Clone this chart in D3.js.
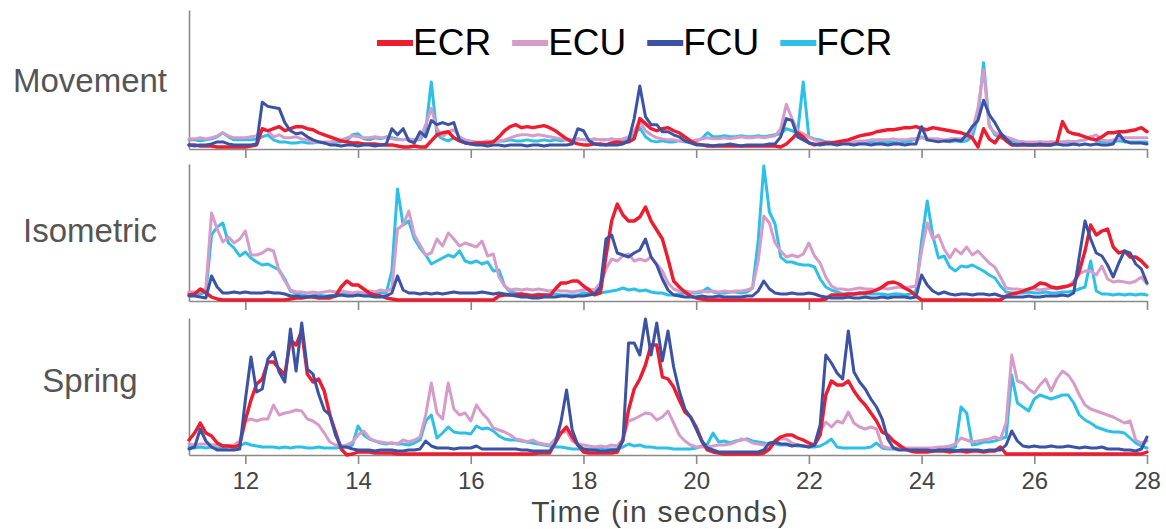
<!DOCTYPE html>
<html>
<head>
<meta charset="utf-8">
<script src="https://cdn.jsdelivr.net/npm/d3@7"></script>
<style>
  html, body { margin: 0; padding: 0; background: #ffffff; }
  svg { display: block; font-family: "Liberation Sans", Arial, Helvetica, sans-serif; }
</style>
</head>
<body>
<svg id="chart" width="1166" height="529"></svg>
<script>
// ---- data -------------------------------------------------------------
const muscles = ["ECR", "ECU", "FCU", "FCR"];
const conditions = ["Movement", "Isometric", "Spring"];
const tickSeconds = [12, 14, 16, 18, 20, 22, 24, 26, 28];
const firstSecond = 11;      // time of the first sample
const sampleStep = 0.1;      // seconds between samples

// EMG envelopes (arbitrary units), one sample every 0.1 s from 11.0 s to 28.0 s
const movementECR = [4,4,3,3,3,2,2,2,2,2,
  2,3,4,20,18,20,22,18,20,22,
  22,20,19,16,14,12,10,8,7,6,
  6,5,5,5,4,4,4,3,2,2,
  3,2,2,8,14,16,17,11,8,6,
  5,6,6,6,7,12,18,22,24,21,
  22,21,22,23,21,18,14,10,7,5,
  4,4,5,5,4,6,7,6,7,10,
  30,25,20,18,20,21,18,16,12,8,
  5,4,3,3,3,3,3,3,3,3,
  3,3,3,3,3,2,5,10,16,12,
  6,4,5,6,6,7,8,9,11,13,
  14,15,17,18,19,19,20,21,21,22,
  20,19,21,20,19,18,17,16,14,11,
  2,20,10,6,14,8,4,4,4,4,
  4,4,4,4,6,27,17,15,14,12,
  10,9,12,16,16,17,17,18,19,21,
  17];
const movementECU = [10,10,11,10,11,13,16,13,11,11,
  11,12,13,19,18,12,14,11,11,12,
  10,9,7,7,7,7,8,9,11,13,
  12,11,11,12,11,11,10,9,9,10,
  9,10,24,40,20,12,17,19,12,9,
  8,7,7,8,7,8,9,11,13,14,
  14,13,14,13,12,11,10,9,9,10,
  9,9,10,9,9,10,9,10,12,18,
  27,18,14,11,10,9,9,8,8,8,
  9,10,11,10,10,11,10,11,12,11,
  11,12,11,12,13,20,44,30,18,15,
  12,9,7,6,6,6,7,6,7,8,
  8,9,9,9,9,10,9,9,10,10,
  11,10,10,10,9,10,10,10,11,18,
  40,78,22,16,14,12,10,8,7,7,
  7,7,7,7,7,7,8,7,8,9,
  12,14,9,8,9,10,11,11,11,11,
  11];
const movementFCU = [4,3,4,4,5,7,7,5,4,4,
  4,4,5,46,42,41,40,26,18,15,
  16,12,9,7,6,4,4,3,4,4,
  3,4,4,3,4,5,20,14,20,8,
  6,17,12,28,24,26,24,26,9,6,
  5,4,4,3,4,4,3,4,4,4,
  3,4,4,3,4,4,4,4,5,20,
  18,8,5,4,4,4,4,5,8,30,
  62,32,24,24,17,17,14,12,8,6,
  4,4,4,3,4,4,5,4,3,4,
  4,4,4,5,5,12,30,28,12,9,
  6,5,4,5,5,4,5,5,4,5,
  5,4,5,5,4,5,5,4,5,5,
  22,9,8,7,8,8,9,8,14,22,
  28,48,34,26,16,10,5,4,5,4,
  4,5,4,4,5,4,4,5,4,5,
  4,5,4,4,5,15,8,6,6,6,
  5];
const movementFCR = [9,9,8,9,10,12,16,12,9,9,
  9,9,10,12,14,9,7,7,6,6,
  7,6,6,7,6,6,7,7,8,14,
  15,10,9,11,10,12,11,10,9,10,
  9,9,18,66,14,10,8,11,9,7,
  6,6,6,7,8,8,8,9,8,8,
  9,8,8,9,8,9,8,9,9,10,
  9,9,10,9,9,10,9,9,10,14,
  21,12,8,7,8,7,7,8,7,7,
  8,10,16,12,12,13,12,12,13,12,
  12,13,12,13,14,15,20,18,16,66,
  12,10,9,7,7,6,7,6,7,6,
  6,7,6,7,7,7,6,7,8,10,
  12,9,9,9,8,7,8,7,8,12,
  32,85,24,14,11,9,8,7,7,6,
  6,7,6,7,6,7,7,7,8,9,
  12,8,7,7,7,8,7,7,7,7,
  7];

const isometricECR = [6,7,12,8,4,2,1,1,1,1,
  1,1,1,1,1,1,1,1,2,3,
  3,4,4,3,3,3,5,14,20,16,
  16,12,8,6,5,3,2,1,1,1,
  1,1,1,1,1,1,1,1,1,1,
  1,1,1,1,1,5,6,6,6,7,
  6,5,6,6,5,12,18,18,20,20,
  15,11,6,8,45,80,97,86,80,80,
  84,94,80,71,62,42,20,14,9,5,
  3,2,1,1,1,1,1,1,1,1,
  1,1,1,1,1,1,1,1,1,1,
  1,1,1,2,6,6,6,7,7,8,
  8,9,11,14,18,19,17,13,10,5,
  1,1,1,1,1,1,1,1,1,1,
  1,1,1,1,1,5,7,8,10,12,
  14,18,17,14,13,14,15,17,30,50,
  76,66,70,72,54,48,50,44,44,40,
  34];
const isometricECU = [9,9,10,13,88,72,59,64,58,62,
  70,46,46,48,52,50,30,20,11,9,
  9,8,9,8,9,10,9,10,9,8,
  9,8,10,9,11,10,12,72,76,90,
  66,56,46,48,62,55,68,62,55,58,
  56,54,60,45,47,24,15,11,12,11,
  12,11,12,11,10,11,10,10,9,10,
  11,12,11,18,32,42,40,45,47,40,
  42,40,44,37,30,18,12,10,10,9,
  9,10,9,10,9,10,9,10,10,11,
  13,40,85,78,58,50,44,46,44,47,
  58,45,38,24,15,12,12,11,12,13,
  12,12,11,13,12,13,14,13,14,15,
  50,78,62,66,52,43,52,47,54,46,
  50,44,38,34,24,13,12,12,11,12,
  12,11,12,13,12,13,15,20,27,30,
  30,26,35,22,19,20,19,18,20,24,
  17];
const isometricFCU = [5,5,4,3,25,14,8,8,9,8,
  9,8,8,8,9,8,8,7,5,5,
  4,4,5,4,4,5,5,6,5,5,
  6,5,5,4,4,5,8,25,11,8,
  8,7,8,7,8,7,8,9,8,8,
  8,8,9,8,7,8,7,6,5,4,
  4,3,3,4,4,4,5,5,4,5,
  5,6,7,14,62,66,48,46,44,48,
  51,62,44,36,22,11,6,5,4,4,
  4,5,4,4,5,4,4,4,4,5,
  5,10,20,12,8,7,7,8,7,7,
  8,7,5,4,3,3,3,4,3,3,
  4,3,3,4,3,4,4,4,3,4,
  26,16,10,7,9,7,6,7,7,6,
  7,7,6,7,5,4,4,4,4,5,
  4,4,5,5,5,6,5,8,45,80,
  62,48,45,36,24,38,50,48,37,32,
  18];
const isometricFCR = [8,8,7,9,66,74,78,58,53,45,
  49,43,39,36,37,34,31,22,10,8,
  6,5,5,6,5,5,6,7,7,6,
  6,7,7,8,8,8,30,112,76,80,
  62,53,46,37,40,43,46,44,50,40,
  38,40,37,39,30,31,15,9,8,7,
  6,6,7,6,7,7,6,6,6,6,
  8,8,11,8,9,10,11,13,11,12,
  10,11,9,8,8,6,6,7,8,8,
  8,9,13,9,8,8,9,9,8,9,
  13,60,135,89,77,44,39,39,37,36,
  36,34,22,14,11,9,7,7,7,7,
  7,7,7,7,6,7,7,6,7,10,
  60,100,65,43,45,34,30,35,34,36,
  33,30,26,23,15,9,8,8,8,9,
  8,8,9,8,8,9,9,10,12,14,
  40,10,7,7,6,7,6,7,6,7,
  6];

const springECR = [15,22,32,22,19,12,9,9,8,10,
  35,55,71,76,93,93,86,80,115,110,
  124,81,73,76,64,40,23,6,0,1,
  3,3,3,2,2,2,2,1,1,1,
  1,1,1,1,1,1,1,1,1,1,
  1,1,1,1,1,1,1,1,1,1,
  1,1,2,2,2,12,22,28,18,10,
  3,2,2,2,2,2,3,15,45,66,
  76,90,110,110,78,76,68,55,43,38,
  28,14,5,3,2,1,1,1,1,1,
  1,1,2,6,14,18,20,20,17,15,
  12,10,20,60,74,70,70,74,64,56,
  50,42,34,23,20,14,10,6,4,3,
  3,3,4,4,4,3,4,4,3,4,
  4,3,4,4,8,1,1,1,1,1,
  1,1,1,1,1,1,1,1,1,1,
  1,1,1,1,1,1,1,1,1,1,
  3];
const springECU = [11,10,11,11,10,10,9,9,10,14,
  34,36,34,36,36,50,40,42,43,45,
  44,36,34,30,22,13,10,9,10,13,
  20,24,17,14,13,12,12,11,15,13,
  15,18,40,72,42,36,72,46,40,42,
  34,50,42,36,27,25,23,20,16,15,
  13,15,12,11,10,16,22,24,14,11,
  10,9,8,9,8,10,9,16,34,36,
  39,42,41,35,38,44,32,20,14,10,
  8,8,8,9,10,10,11,13,16,15,
  12,11,10,11,13,16,16,12,10,9,
  9,10,24,33,28,34,32,43,32,28,
  26,28,26,9,7,7,7,7,7,7,
  7,7,7,8,8,9,11,17,15,13,
  14,15,16,18,16,32,100,74,72,66,
  62,70,76,64,76,84,80,72,60,50,
  46,44,42,40,38,35,32,34,15,12,
  14];
const springFCU = [6,8,26,14,8,5,5,5,5,6,
  55,98,63,66,96,103,83,73,126,84,
  132,86,81,61,45,40,20,8,8,6,
  5,5,5,4,5,5,5,4,4,5,
  5,6,14,9,7,7,7,6,7,7,
  7,9,6,6,6,6,6,6,6,5,
  5,4,4,4,4,12,33,65,25,10,
  6,5,5,4,4,5,5,14,112,112,
  100,136,100,132,94,124,88,64,46,38,
  26,14,7,5,3,3,3,3,3,3,
  3,3,5,12,13,11,11,9,10,9,
  8,10,30,100,92,82,76,124,83,73,
  66,56,48,36,16,7,5,5,5,5,
  5,5,4,5,5,5,4,5,5,5,
  5,4,5,5,5,10,24,14,9,8,
  9,8,8,9,8,8,9,8,7,8,
  7,7,8,6,6,6,5,5,4,6,
  18];
const springFCR = [8,7,8,7,8,7,7,8,8,9,
  12,10,9,8,8,8,7,8,7,8,
  8,7,7,8,7,7,7,8,8,10,
  29,20,16,14,12,11,12,11,11,10,
  12,15,34,40,17,22,28,23,22,22,
  21,29,26,27,24,19,16,15,15,14,
  13,12,11,10,9,8,8,7,6,6,
  6,6,6,7,6,6,6,8,11,9,
  10,8,8,7,7,7,6,6,6,6,
  7,9,11,22,13,14,12,14,15,16,
  14,13,12,11,11,10,10,10,9,9,
  8,8,9,12,16,8,7,7,7,7,
  7,8,12,7,6,6,6,6,6,6,
  6,6,6,6,6,6,8,48,42,10,
  11,13,13,14,16,18,80,52,48,44,
  56,60,58,56,58,60,60,52,40,35,
  32,28,26,24,23,23,22,17,12,9,
  7];

// ---- look & layout ----------------------------------------------------
const muscleColors = { ECR: "#ED1C2E", ECU: "#D79BCA", FCU: "#3C52A4", FCR: "#2CC0E8" };
const drawOrder = ["FCR", "ECU", "ECR", "FCU"];
const valueMax = 137;

const margin = { left: 189, right: 1147 };
const panels = [
  { name: "Movement",  top: 10,  bottom: 149, labelY: 80,
    series: { ECR: movementECR, ECU: movementECU, FCU: movementFCU, FCR: movementFCR } },
  { name: "Isometric", top: 164, bottom: 301, labelY: 230,
    series: { ECR: isometricECR, ECU: isometricECU, FCU: isometricFCU, FCR: isometricFCR } },
  { name: "Spring",    top: 318, bottom: 455, labelY: 380,
    series: { ECR: springECR, ECU: springECU, FCU: springFCU, FCR: springFCR } }
];

const svg = d3.select("#chart");
const axisColor = "#8a8a8a";
const textColor = "#444444";

const x = d3.scaleLinear().domain([firstSecond, 28]).range([margin.left, margin.right]);
const sampleTime = i => firstSecond + i * sampleStep;

panels.forEach((p, pi) => {
  const y = d3.scaleLinear().domain([0, valueMax]).range([p.bottom, p.top]);
  const g = svg.append("g").attr("class", "panel");

  // bottom axis with outward ticks; labels only under the last panel
  const isLast = pi === panels.length - 1;
  const xAxis = d3.axisBottom(x)
    .tickValues(tickSeconds)
    .tickSize(9)
    .tickSizeOuter(0)
    .tickPadding(8)
    .tickFormat(isLast ? d3.format("d") : () => "");
  const gx = g.append("g")
    .attr("transform", `translate(0,${p.bottom})`)
    .call(xAxis);
  gx.select(".domain").attr("stroke", axisColor).attr("stroke-width", 1.6);
  gx.selectAll(".tick line").attr("stroke", axisColor).attr("stroke-width", 1.6);
  gx.selectAll(".tick text")
    .attr("fill", textColor)
    .style("font-size", "24px")
    .style("font-family", "'Liberation Sans', Arial, sans-serif");

  // left axis: plain spine
  const gy = g.append("g")
    .attr("transform", `translate(${margin.left},0)`)
    .call(d3.axisLeft(y).tickValues([]).tickSizeOuter(0));
  gy.select(".domain").attr("stroke", axisColor).attr("stroke-width", 1.6);

  // traces
  const line = d3.line()
    .x((d, i) => x(sampleTime(i)))
    .y(d => y(d))
    .curve(d3.curveLinear);

  drawOrder.forEach(m => {
    g.append("path")
      .datum(p.series[m])
      .attr("fill", "none")
      .attr("stroke", muscleColors[m])
      .attr("stroke-width", m === "ECR" ? 3.4 : 3)
      .attr("stroke-linejoin", "round")
      .attr("stroke-linecap", "round")
      .attr("d", line);
  });

  // condition label
  svg.append("text")
    .attr("x", 90)
    .attr("y", p.labelY)
    .attr("dy", "0.35em")
    .attr("text-anchor", "middle")
    .attr("fill", "#555555")
    .style("font-size", "33px")
    .text(conditions[pi]);
});

// x axis title
svg.append("text")
  .attr("x", 660)
  .attr("y", 522)
  .attr("text-anchor", "middle")
  .attr("fill", textColor)
  .style("font-size", "30px")
  .style("letter-spacing", "1.2px")
  .text("Time (in seconds)");

// legend
const legend = svg.append("g").attr("class", "legend");
let lx = 377;
const legendY = 43;
muscles.forEach(m => {
  legend.append("line")
    .attr("x1", lx).attr("x2", lx + 36)
    .attr("y1", legendY).attr("y2", legendY)
    .attr("stroke", muscleColors[m])
    .attr("stroke-width", 6);
  const t = legend.append("text")
    .attr("x", lx + 36)
    .attr("y", legendY + 12)
    .attr("fill", "#000000")
    .style("font-size", "37px")
    .text(m);
  lx += 36 + t.node().getComputedTextLength() + 21;
});
</script>
</body>
</html>
